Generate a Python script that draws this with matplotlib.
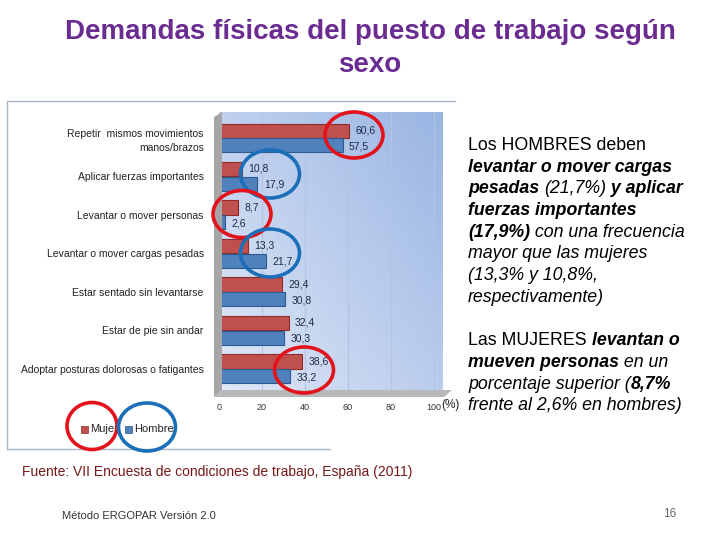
import numpy as np
import matplotlib.pyplot as plt
from matplotlib.patches import Ellipse, Rectangle, Polygon
from matplotlib.lines import Line2D

plt.rcParams["font.family"] = ["Liberation Sans", "DejaVu Sans"]

categories = [
    "Repetir  mismos movimientos\nmanos/brazos",
    "Aplicar fuerzas importantes",
    "Levantar o mover personas",
    "Levantar o mover cargas pesadas",
    "Estar sentado sin levantarse",
    "Estar de pie sin andar",
    "Adoptar posturas dolorosas o fatigantes",
]
mujer = [60.6, 10.8, 8.7, 13.3, 29.4, 32.4, 38.6]
hombre = [57.5, 17.9, 2.6, 21.7, 30.8, 30.3, 33.2]
x_ticks = [0, 20, 40, 60, 80, 100]

W, H = 720, 540
fig = plt.figure(figsize=(7.2, 5.4), dpi=100)


def fx(px):
    return px / W


def fy(py):
    return 1 - py / H


# chart frame
fig.add_artist(Line2D([fx(7), fx(7), fx(455)], [fy(449), fy(101), fy(101)],
                      transform=fig.transFigure, color="#a9b6c6", lw=1.0))
fig.add_artist(Line2D([fx(7), fx(330)], [fy(449), fy(449)],
                      transform=fig.transFigure, color="#a9b6c6", lw=1.0))

# 3D wall and floor
fig.add_artist(Polygon([(fx(214), fy(397)), (fx(214), fy(117)), (fx(222), fy(112)), (fx(222), fy(390))],
                       closed=True, transform=fig.transFigure, facecolor="#a6a6a6", edgecolor="none"))
fig.add_artist(Polygon([(fx(214), fy(397)), (fx(222), fy(390)), (fx(452), fy(390)), (fx(444), fy(397))],
                       closed=True, transform=fig.transFigure, facecolor="#b8b8b8", edgecolor="none"))

ax = fig.add_axes([fx(219), fy(390), fx(442 - 219), (390 - 112) / H])
xmax = 100 * (442 - 219) / (431 - 216)

# gradient background
gx = np.linspace(0, 1, 200)
gy = np.linspace(0, 1, 200)
GX, GY = np.meshgrid(gx, gy)
g = 0.55 * GX + 0.45 * (1 - GY)
c0 = np.array([0.88, 0.91, 0.97])
c1 = np.array([0.60, 0.71, 0.89])
img = c0[None, None, :] * (1 - g[..., None]) + c1[None, None, :] * g[..., None]
ax.imshow(img, extent=[0, xmax, 6.55, -0.675], aspect="auto", zorder=0)

for t in x_ticks[1:]:
    ax.axvline(t, color="#b3c4e0", lw=0.8, zorder=1)

y = np.arange(len(categories))
bh = 0.37
ax.barh(y - 0.19, mujer, height=bh, color="#c0504d", edgecolor="#8e2d2a", lw=0.8, zorder=3)
ax.barh(y + 0.19, hombre, height=bh, color="#4f81bd", edgecolor="#2d5b91", lw=0.8, zorder=3)

for i in range(len(categories)):
    ax.text(mujer[i] + 3, y[i] - 0.2, f"{mujer[i]:.1f}".replace(".", ","),
            va="center", ha="left", fontsize=7.5, color="#1f2a44", zorder=4)
    ax.text(hombre[i] + 3, y[i] + 0.22, f"{hombre[i]:.1f}".replace(".", ","),
            va="center", ha="left", fontsize=7.5, color="#1f2a44", zorder=4)

ax.set_xlim(0, xmax)
ax.set_ylim(6.55, -0.675)
ax.set_yticks(y)
ax.set_yticklabels(categories, fontsize=7.5, color="#222222", linespacing=1.5)
ax.set_xticks(x_ticks)
ax.set_xticklabels([str(t) for t in x_ticks], fontsize=6.5, color="#333333")
ax.tick_params(length=0, pad=9)
ax.tick_params(axis="y", pad=11)
for s in ax.spines.values():
    s.set_visible(False)

fig.text(fx(441), fy(405), "(%)", fontsize=8.5, color="#222222", va="center", ha="left")

# legend
fig.add_artist(Rectangle((fx(81), fy(433)), fx(7), 7 / H, transform=fig.transFigure,
                         facecolor="#c0504d", edgecolor="#8e2d2a", lw=0.5))
fig.text(fx(90), fy(429), "Mujer", fontsize=8, color="#222222", va="center")
fig.add_artist(Rectangle((fx(125), fy(433)), fx(7), 7 / H, transform=fig.transFigure,
                         facecolor="#4f81bd", edgecolor="#2d5b91", lw=0.5))
fig.text(fx(134), fy(429), "Hombre", fontsize=8, color="#222222", va="center")

# highlight ellipses
red = "#e3131b"
blue = "#1a6fb8"
ellipses = [
    (354, 135, 58, 46, red),
    (270, 174, 59, 48, blue),
    (242, 214, 58, 47, red),
    (270, 253, 59, 48, blue),
    (304, 370, 59, 46, red),
    (92, 426, 50, 47, red),
    (147, 427, 57, 48, blue),
]
for cx, cy, ew, eh, col in ellipses:
    fig.add_artist(Ellipse((fx(cx), fy(cy)), ew / W, eh / H, transform=fig.transFigure,
                           facecolor="none", edgecolor=col, lw=2.6, zorder=10))

# title
fig.text(fx(370), fy(32), "Demandas físicas del puesto de trabajo según", fontsize=20,
         fontweight="bold", color="#6b2c91", ha="center", va="center")
fig.text(fx(370), fy(65), "sexo", fontsize=20, fontweight="bold", color="#6b2c91",
         ha="center", va="center")

# right-hand text, mixed styles
R = "normal"
BI = "bolditalic"
I = "italic"
lines = [
    [("Los HOMBRES deben", R)],
    [("levantar o mover cargas", BI)],
    [("pesadas ", BI), ("(21,7%)", I), (" y aplicar", BI)],
    [("fuerzas importantes", BI)],
    [("(17,9%)", BI), (" con una frecuencia", I)],
    [("mayor que las mujeres", I)],
    [("(13,3% y 10,8%,", I)],
    [("respectivamente)", I)],
    [],
    [("Las MUJERES ", R), ("levantan o", BI)],
    [("mueven personas", BI), (" en un", I)],
    [("porcentaje superior (", I), ("8,7%", BI)],
    [("frente al 2,6% en hombres)", I)],
]
renderer = fig.canvas.get_renderer()
base_y = 150
step = 21.7
for li, segs in enumerate(lines):
    xpix = 468
    for txt, st in segs:
        kw = dict(fontsize=12.8, color="#000000", va="baseline", ha="left")
        if st == BI:
            kw.update(fontweight="bold", fontstyle="italic")
        elif st == I:
            kw.update(fontstyle="italic")
        t = fig.text(fx(xpix), fy(base_y + li * step), txt, **kw)
        xpix += t.get_window_extent(renderer).width

# footer
fig.text(fx(22), fy(472), "Fuente: VII Encuesta de condiciones de trabajo, España (2011)",
         fontsize=10, color="#761818", va="center", ha="left")
fig.text(fx(62), fy(516), "Método ERGOPAR Versión 2.0", fontsize=8, color="#333333",
         va="center", ha="left")
fig.text(fx(670), fy(514), "16", fontsize=8.5, color="#666666", va="center", ha="center")

fig.savefig("out.png", dpi=100)
